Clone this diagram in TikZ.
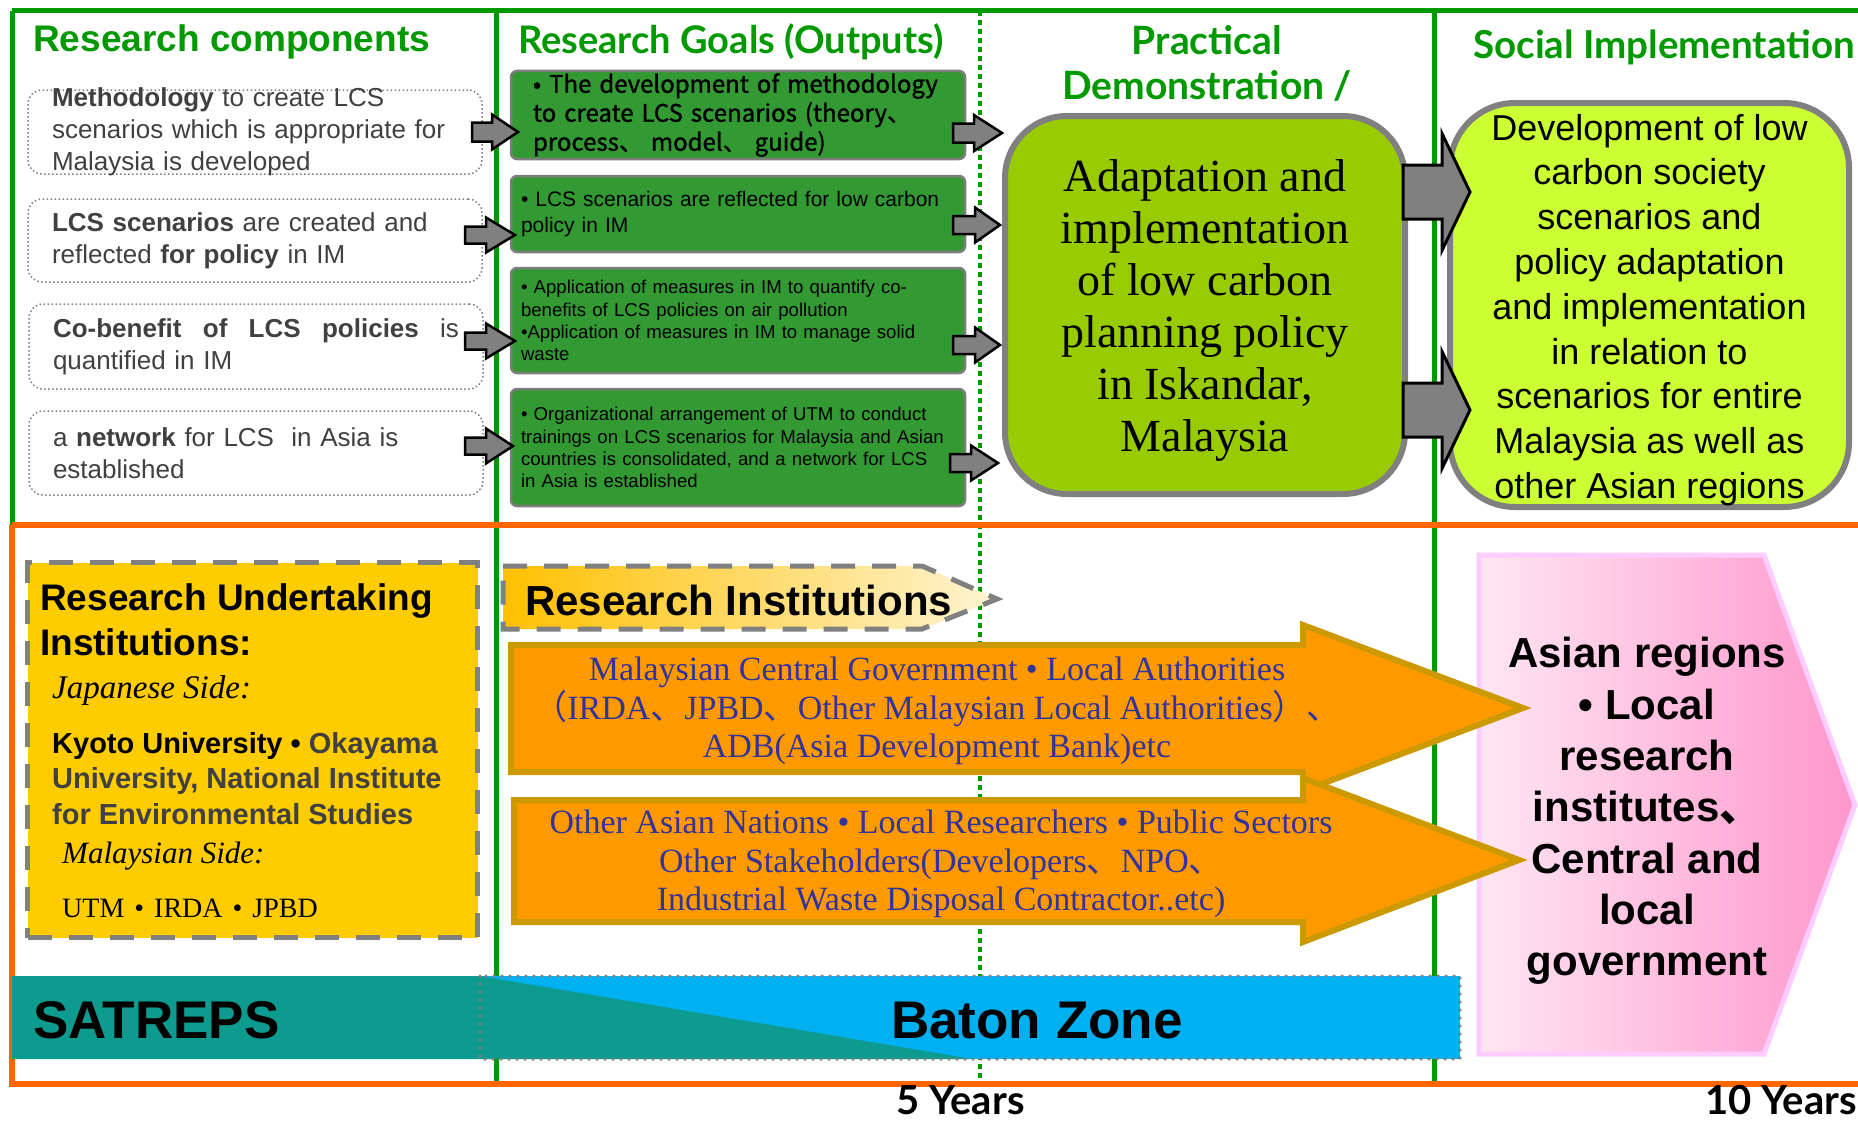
\documentclass[tikz,border=0pt]{standalone}
\usepackage{fontspec}
\setmainfont{Liberation Sans}
\newfontfamily\serifface{Liberation Serif}
\newfontfamily\latoface{Lato}
\newfontfamily\cjkface{Noto Sans CJK JP}
\newfontfamily\cjkboldface{Noto Sans CJK JP}[FakeBold=1.2]
\newcommand{\fsz}[2]{\fontsize{#1pt}{#2pt}\selectfont}
\newcommand{\cj}[1]{{\cjkface #1}}
\definecolor{gcol}{RGB}{0,153,0}
\definecolor{ocol}{RGB}{255,102,0}
\definecolor{txtgray}{RGB}{64,64,64}
\definecolor{dotgray}{RGB}{128,128,128}
\definecolor{boxgreen}{RGB}{51,153,51}
\definecolor{goalborder}{RGB}{125,125,125}
\definecolor{olivefill}{RGB}{153,204,0}
\definecolor{limefill}{RGB}{204,255,51}
\definecolor{boxgray}{RGB}{128,128,128}
\definecolor{arrgray}{RGB}{128,128,128}
\definecolor{yelfill}{RGB}{255,204,0}
\definecolor{orfill}{RGB}{255,153,0}
\definecolor{orline}{RGB}{204,153,0}
\definecolor{bluetext}{RGB}{51,51,153}
\definecolor{tealfill}{RGB}{14,155,143}
\definecolor{cyanfill}{RGB}{0,176,240}
\definecolor{pinkL}{RGB}{255,230,242}
\definecolor{pinkR}{RGB}{255,150,204}
\definecolor{pinkB}{RGB}{255,204,255}
\definecolor{riL}{RGB}{255,192,0}
\definecolor{riR}{RGB}{255,244,210}
% block arrow: x start, head base x, tip x, y centre, shaft half, head half, style
\newcommand{\blkarr}[7]{%
  \path[#7] (#1,#4-#5) -- (#2,#4-#5) -- (#2,#4-#6) -- (#3,#4)
    -- (#2,#4+#6) -- (#2,#4+#5) -- (#1,#4+#5) -- cycle;}
\tikzset{
  gline/.style={draw=gcol, line width=5pt},
  oline/.style={draw=ocol, line width=5.5pt},
  gdots/.style={draw=gcol, line width=4.5pt, dash pattern=on 5pt off 4pt},
  ln/.style={anchor=base west, inner sep=0pt},
  gtitle/.style={text=gcol, inner sep=0pt},
  compbox/.style={draw=dotgray, line width=1.5pt, dash pattern=on 1.5pt off 2.5pt,
    rounded corners=14pt, minimum width=454pt, text width=406pt, inner xsep=24pt,
    inner ysep=0pt, align=left, text=txtgray, font=\fsz{26}{32}},
  goalbox/.style={fill=boxgreen, draw=goalborder, line width=2.5pt, rounded corners=6pt,
    minimum width=454pt, inner ysep=0pt, align=left, text=black},
  smallarr/.style={fill=arrgray, draw=black, line width=2.5pt, line join=miter},
  bigarr/.style={fill=arrgray, draw=black, line width=3pt, line join=miter},
  orarrow/.style={fill=orfill, draw=orline, line width=6pt, line join=miter},
  bigbox/.style={draw=boxgray, line width=6pt, align=center, inner sep=0pt},
  dashbox/.style={draw=dotgray, line width=5pt, dash pattern=on 24pt off 17pt},
  armtext/.style={align=center, inner sep=0pt, text=bluetext, font=\serifface\fsz{34}{38.5}},
  bigtext/.style={ln, font=\bfseries\fsz{53}{60}, text=black}
}
\begin{document}
\begin{tikzpicture}[x=1pt,y=-1pt]
\useasboundingbox (0,0) rectangle (1858,1124);
\fill[white] (0,0) rectangle (1858,1124);

% ---------- frame ----------
\draw[gline] (12,11) -- (1858,11);
\draw[gline] (12,11) -- (12,525);
\draw[gline] (496,11) -- (496,1084);
\draw[gdots] (980,11) -- (980,1084);
\draw[gline] (1434,11) -- (1434,1084);
\draw[oline] (12,525) -- (1858,525);
\draw[oline] (12,525) -- (12,1084) -- (1858,1084);

% ---------- titles ----------
\node[gtitle, anchor=base west, font=\bfseries\fsz{37}{44}] (t1) at (33,52) {Research components};
\node[gtitle, anchor=base west, font=\latoface\bfseries\fsz{38}{44}] (t2) at (518,54) {Research Goals (Outputs)};
\node[gtitle, align=center, font=\latoface\bfseries\fsz{39}{45}] (t3) at (1207,63) {Practical\\Demonstration /};
\node[gtitle, anchor=base west, font=\latoface\bfseries\fsz{38.5}{44}] (t4) at (1473,59) {Social Implementation};

% ---------- research components ----------
\node[compbox, minimum height=84pt, inner ysep=-2.5pt] (c1) at (255,132)
  {\textbf{Methodology} to create LCS\\scenarios which is appropriate for\\Malaysia is developed};
\node[compbox, minimum height=83pt] (c2) at (255,240.5)
  {\textbf{LCS scenarios} are created and\\reflected \textbf{for policy} in IM};
\node[compbox, minimum height=85pt] (c3) at (256,346.5)
  {\hbox to 406pt{\textbf{Co-benefit\hfill of\hfill LCS\hfill policies}\hfill is}\\quantified in IM};
\node[compbox, minimum height=84pt] (c4) at (256,453)
  {a \textbf{network} for LCS~ in Asia is\\established};

% ---------- research goals ----------
\node[goalbox, minimum height=88pt, text width=410pt, inner xsep=22pt, font=\cjkboldface\fsz{24}{29}] (g1) at (738,115)
  {• The development of methodology\\to create LCS scenarios (theory、\\process、 model、 guide)};
\node[goalbox, minimum height=76pt, text width=434pt, inner xsep=10pt, font=\fsz{21}{26}] (g2) at (738,214)
  {• LCS scenarios are reflected for low carbon\\policy in IM};
\node[goalbox, minimum height=105pt, text width=434pt, inner xsep=10pt, font=\fsz{18.6}{22.3}] (g3) at (738,320.5)
  {• Application of measures in IM to quantify co-\\benefits of LCS policies on air pollution\\•Application of measures in IM to manage solid\\waste};
\node[goalbox, minimum height=117pt, text width=434pt, inner xsep=10pt, font=\fsz{18.6}{22.3}] (g4) at (738,447.5)
  {• Organizational arrangement of UTM to conduct\\trainings on LCS scenarios for Malaysia and Asian\\countries is consolidated, and a network for LCS\\in Asia is established};

% ---------- practical demonstration & social implementation ----------
\node[bigbox, fill=olivefill, rounded corners=62pt, minimum width=400pt, minimum height=378pt,
  font=\serifface\fsz{46}{52}] (prac) at (1205,305)
  {\rule{0pt}{42pt}Adaptation and\\implementation\\of low carbon\\planning policy\\in Iskandar,\\Malaysia};
\node[bigbox, fill=limefill, rounded corners=65pt, minimum width=399pt, minimum height=404pt,
  font=\fsz{36}{44.8}] (soc) at (1649.5,305)
  {\rule{0pt}{36pt}Development of low\\carbon society\\scenarios and\\policy adaptation\\and implementation\\in relation to\\scenarios for entire\\Malaysia as well as\\other Asian regions};

% ---------- block arrows ----------
\blkarr{472}{492}{518}{132}{9.5}{17.5}{smallarr}
\blkarr{465}{486}{515}{235}{8.5}{17.5}{smallarr}
\blkarr{465}{486}{515}{341}{8.5}{17.5}{smallarr}
\blkarr{465}{486}{513}{446}{8.5}{17.5}{smallarr}
\blkarr{953}{974}{1002}{133}{9.5}{18}{smallarr}
\blkarr{953}{975}{1000}{225}{9}{17.5}{smallarr}
\blkarr{953}{975}{1000}{345}{9}{17.5}{smallarr}
\blkarr{950}{971}{998}{463}{9}{17.5}{smallarr}
\blkarr{1403}{1442}{1470}{192}{27}{58.5}{bigarr}
\blkarr{1403}{1442}{1470}{410}{27}{58.5}{bigarr}

% ---------- research undertaking institutions ----------
\node[dashbox, fill=yelfill, minimum width=450pt, minimum height=375pt, inner sep=0pt] (rui) at (252.5,750) {};
\node[ln, font=\bfseries\fsz{37}{45}] (ru1) at (40,610) {Research Undertaking};
\node[ln, font=\bfseries\fsz{37}{45}] (ru2) at (40,655) {Institutions:};
\node[ln, font=\serifface\itshape\fsz{33}{36}] (jps) at (52,698) {Japanese Side:};
\node[ln, font=\bfseries\fsz{29}{35}, text=txtgray] (ky1) at (52,753) {\textcolor{black}{Kyoto University •} Okayama};
\node[ln, font=\bfseries\fsz{29}{35}, text=txtgray] (ky2) at (52,788) {University, National Institute};
\node[ln, font=\bfseries\fsz{29}{35}, text=txtgray] (ky3) at (52,824) {for Environmental Studies};
\node[ln, font=\serifface\itshape\fsz{31}{36}] (mys) at (62,863) {Malaysian Side:};
\node[ln, font=\serifface\fsz{28}{34}] (utm) at (62,917) {UTM\hspace{10pt}•\hspace{10pt}IRDA\hspace{10pt}•\hspace{10pt}JPBD};

% ---------- research institutions ----------
\path[dashbox, left color=riL, right color=riR] (503,566) -- (922,566) -- (997,599) -- (922,629) -- (503,629) -- cycle;
\node[ln, font=\bfseries\fsz{42}{48}] (ri) at (525,615) {Research Institutions};

% ---------- asian regions (under the arrow tips) ----------
\path[draw=pinkB, line width=5pt, left color=pinkL, right color=pinkR]
  (1479,555) -- (1764,555) -- (1855,805) -- (1764,1054) -- (1479,1054) -- cycle;

% ---------- orange arrows ----------
\path[orarrow] (511,645) -- (1303,645) -- (1303,625) -- (1523,708) -- (1303,791) -- (1303,772) -- (511,772) -- cycle;
\path[orarrow] (514,800) -- (1303,800) -- (1303,778) -- (1519,860) -- (1303,942) -- (1303,922) -- (514,922) -- cycle;
\node[armtext] (mg1) at (937,711)
  {Malaysian Central Government • Local Authorities\\\cj{（}IRDA\cj{、}JPBD\cj{、}Other Malaysian Local Authorities\cj{）、}\\ADB(Asia Development Bank)etc};
\node[armtext] (mg2) at (941,864)
  {Other Asian Nations • Local Researchers • Public Sectors\\Other Stakeholders(Developers\cj{、}NPO\cj{、}\\Industrial Waste Disposal Contractor..etc)};

\node[align=center, inner sep=0pt, font=\bfseries\fsz{42}{51.3}] (asia) at (1647,811)
  {Asian regions\\• Local\\research\\institutes\cj{、}\\Central and\\local\\government};

% ---------- SATREPS / baton zone ----------
\fill[cyanfill] (480,976) rectangle (1460,1059);
\fill[tealfill] (12,976) -- (480,976) -- (972,1059) -- (12,1059) -- cycle;
\draw[dotgray, line width=3.5pt, line cap=round, dash pattern=on 0pt off 8pt] (480,976) rectangle (1460,1059);
\node[bigtext] (sat) at (33,1038) {SATREPS};
\node[bigtext] (baton) at (891,1038) {Baton Zone};

% ---------- time labels ----------
\node[ln, font=\latoface\bfseries\fsz{40}{46}] (y5) at (896,1114) {5 Years};
\node[ln, font=\latoface\bfseries\fsz{40}{46}] (y10) at (1705,1114) {10 Years};
\end{tikzpicture}
\end{document}
